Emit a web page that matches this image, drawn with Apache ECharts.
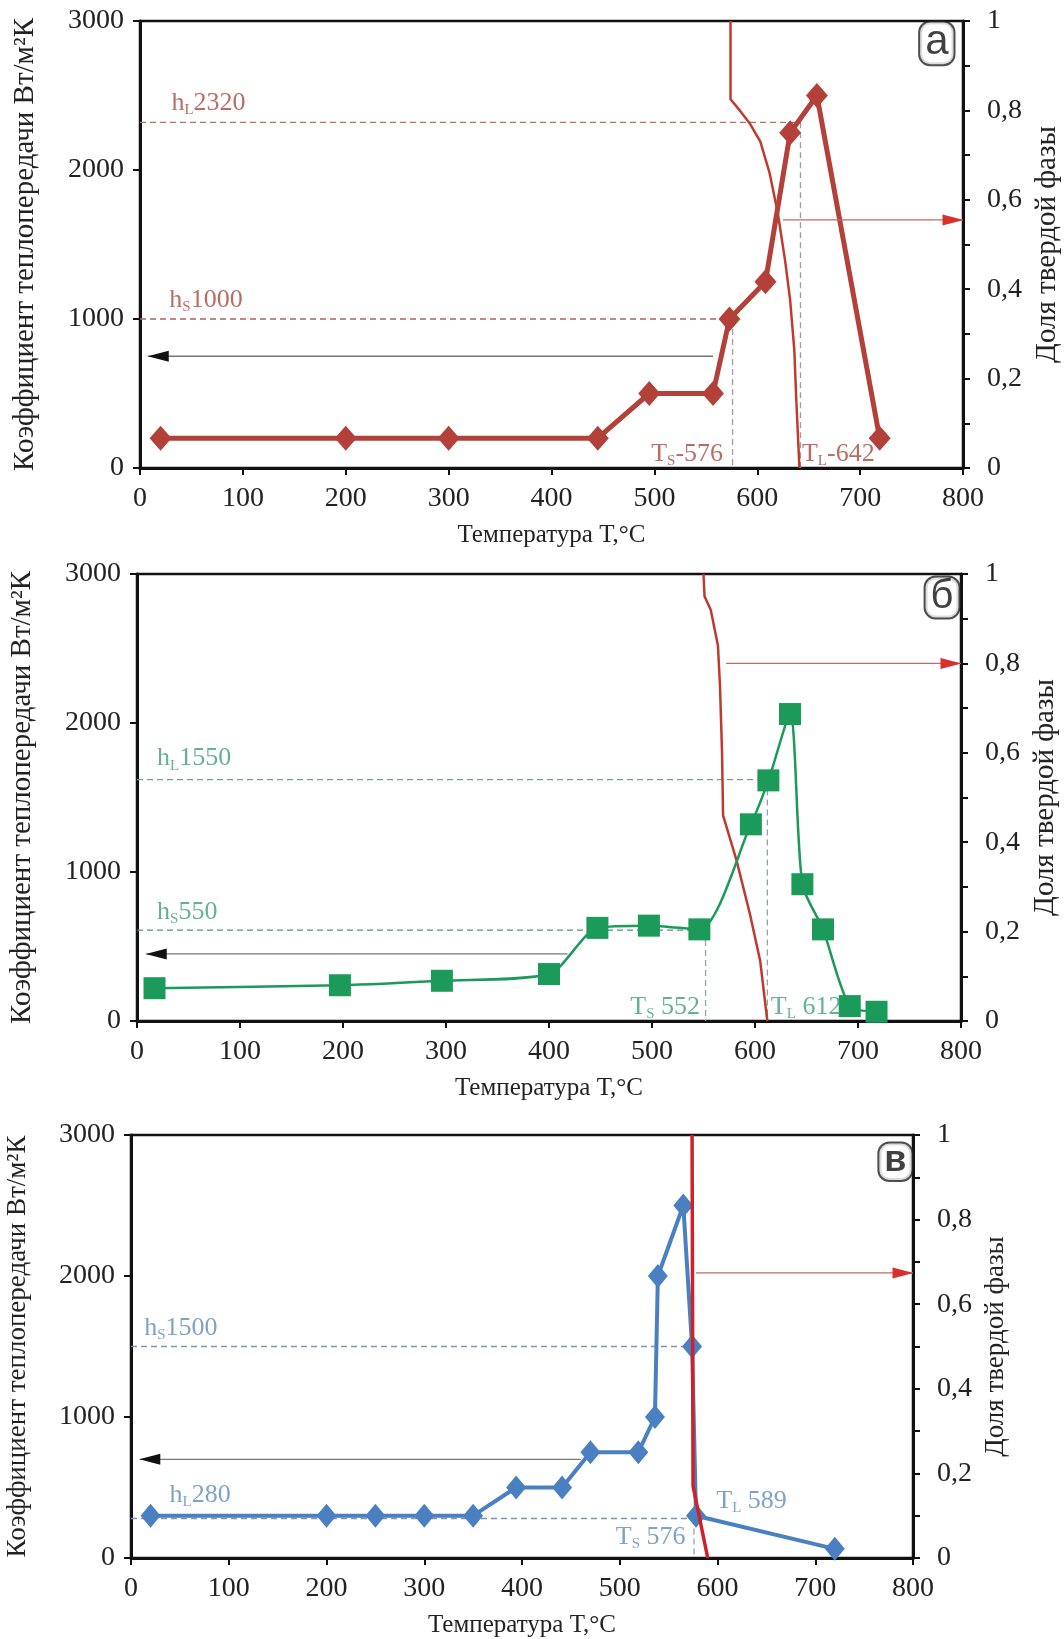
<!DOCTYPE html>
<html><head><meta charset="utf-8">
<script src="https://cdn.jsdelivr.net/npm/echarts@6.0.0/dist/echarts.min.js"></script>
<style>html,body{margin:0;padding:0;background:#fff}#c{width:1064px;height:1639px}</style>
</head><body><div id="c"></div>
<script>
// ---------- data: panel а (red diamonds) ----------
const aTemp  = [20, 200, 300, 445, 495, 557, 573, 608, 632, 658, 719];
const aH     = [200, 200, 200, 200, 500, 500, 1000, 1250, 2250, 2500, 200];
const aFracT = [574, 574, 583, 593, 603, 612, 620, 627, 632, 636, 638, 641];
const aFrac  = [1, 0.825, 0.80, 0.77, 0.73, 0.66, 0.57, 0.465, 0.375, 0.265, 0.15, 0];
const aRef   = [2320, 642, 1000, 576];          // hL, TL, hS, TS
const aArrowH = [557, 8, 750];                  // from T, to T, h
const aArrowF = [625, 800, 0.555];              // from T, to T, fraction
const aText  = ['2320', '-642', '1000', '-576'];

// ---------- data: panel б (green squares) ----------
const bTemp  = [17, 197, 296, 400, 447, 497, 546, 596, 613, 634, 646, 666, 692, 718];
const bH     = [220, 240, 270, 315, 625, 640, 615, 1320, 1615, 2060, 918, 615, 100, 62];
const bFracT = [550, 551, 557, 564, 566, 568, 569, 582, 595, 605, 612];
const bFrac  = [1, 0.95, 0.92, 0.84, 0.75, 0.6, 0.46, 0.36, 0.24, 0.135, 0];
const bRef   = [1620, 612, 610, 552];
const bArrowH = [418, 9, 450];
const bArrowF = [572, 800, 0.8];
const bText  = ['1550', ' 612', '550', ' 552'];

// ---------- data: panel в (blue diamonds) ----------
const cTemp  = [20, 200, 250, 300, 350, 394, 441, 470, 519, 536, 539, 565, 574, 578, 720];
const cH     = [300, 300, 300, 300, 300, 500, 500, 750, 750, 1000, 2000, 2500, 1500, 300, 65];
const cFracT = [574, 575, 590];
const cFrac  = [1, 0.17, 0];
const cRef   = [280, 589, 1500, 576];           // hL, TL, hS, TS
const cArrowH = [460, 9, 700];
const cArrowF = [578, 800, 0.674];
const cText  = ['280', ' 589', '1500', ' 576'];

const xTitle = 'Температура T,°C';
const yTitleL = 'Коэффициент теплопередачи Вт/м²К';
const yTitleR = 'Доля твердой фазы';
const panelLetters = ['а', 'б', 'в'];

// ---------- styling ----------
const SERIF = "'Liberation Serif','Times New Roman',serif";
const SANS = "'Liberation Sans',Arial,sans-serif";
const zip = (xs, ys) => xs.map((x, i) => [x, ys[i]]);
const titleSize = [29, 29, 27];

const grids = [
  {left: 140, top: 21, width: 823, height: 447},
  {left: 137, top: 574, width: 824, height: 447},
  {left: 131, top: 1135, width: 782, height: 423}
].map(g => Object.assign(g, {show: true, borderColor: '#111', borderWidth: 2.5, backgroundColor: 'transparent', containLabel: false, outerBoundsMode: 'none'}));

const xAxes = [0, 1, 2].map(i => ({
  gridIndex: i, type: 'value', min: 0, max: 800, interval: 100,
  name: xTitle, nameLocation: 'middle', nameGap: 55,
  nameTextStyle: {fontFamily: SERIF, fontSize: 25, color: '#222'},
  axisLine: {onZero: false, lineStyle: {color: '#111', width: 3}},
  axisTick: {length: 7, lineStyle: {color: '#111', width: 2}},
  axisLabel: {fontFamily: SERIF, fontSize: 28, color: '#222', margin: 17, formatter: v => String(v)},
  splitLine: {show: false}
}));

const yAxes = [];
[0, 1, 2].forEach(i => {
  yAxes.push({
    gridIndex: i, type: 'value', position: 'left', min: 0, max: 3000, interval: 1000,
    name: yTitleL, nameLocation: 'middle', nameRotate: 90, nameGap: 100,
    nameTextStyle: {fontFamily: SERIF, fontSize: titleSize[i], color: '#222'},
    axisLine: {show: true, onZero: false, lineStyle: {color: '#111', width: 3}},
    axisTick: {show: true, length: 7, lineStyle: {color: '#111', width: 2}},
    axisLabel: {fontFamily: SERIF, fontSize: 28, color: '#222', margin: 16, formatter: v => String(v)},
    splitLine: {show: false}
  });
  yAxes.push({
    gridIndex: i, type: 'value', position: 'right', min: 0, max: 1, interval: 0.1,
    name: yTitleR, nameLocation: 'middle', nameRotate: 90, nameGap: 68,
    nameTextStyle: {fontFamily: SERIF, fontSize: titleSize[i], color: '#222'},
    axisLine: {show: true, onZero: false, lineStyle: {color: '#111', width: 3}},
    axisTick: {show: true, length: 7, lineStyle: {color: '#111', width: 2}},
    axisLabel: {fontFamily: SERIF, fontSize: 28, color: '#222', margin: 24,
      formatter: v => { const k = Math.round(v * 10); if (k % 2) return ''; return k === 0 ? '0' : k === 10 ? '1' : '0,' + k; }},
    splitLine: {show: false}
  });
});

function rich(color) {
  return {
    r: {fontFamily: SERIF, fontSize: 26, color},
    s: {fontFamily: SERIF, fontSize: 15, color, padding: [14, 0, 0, 0]}
  };
}
function dashed(i, pts, color) {
  return {type: 'line', xAxisIndex: i, yAxisIndex: 2 * i, data: pts, symbol: 'none', silent: true, z: 1,
    lineStyle: {color, width: 1.3, type: [6, 4]}};
}
function arrow(i, yi, spec, lineColor, headColor) {
  const [from, to, y] = spec; const left = to < from;
  return {type: 'line', xAxisIndex: i, yAxisIndex: yi, silent: true, z: 4,
    lineStyle: {color: lineColor, width: 1.3},
    data: [{value: [from, y], symbol: 'none'},
           {value: [to, y], symbol: 'triangle', symbolSize: [11, 21], symbolRotate: left ? 90 : -90,
            symbolOffset: [left ? 10 : -10, 0], itemStyle: {color: headColor}}]};
}
function lbl(x, y, fmt, color, pos, align, va) {
  return {value: [x, y], label: {show: true, formatter: fmt, rich: rich(color), position: pos, align, verticalAlign: va}};
}
function textSeries(i, items) {
  return {type: 'scatter', xAxisIndex: i, yAxisIndex: 2 * i, symbolSize: 1, silent: true, z: 6,
    itemStyle: {color: 'transparent'}, data: items};
}
function letter(i, ch, pos, size, weight) {
  return {type: 'scatter', xAxisIndex: i, yAxisIndex: 2 * i, symbolSize: 1, silent: true, z: 7,
    itemStyle: {color: 'transparent'},
    data: [{value: [800, 3000], label: {show: true, formatter: ch, position: pos, align: 'right', verticalAlign: 'top',
      fontFamily: SANS, fontSize: size, fontWeight: weight, color: '#111', lineHeight: size * 0.9,
      borderColor: '#222', borderWidth: 2, borderRadius: 10, padding: [1, 5, 3, 5], backgroundColor: '#fff'}}]};
}

const series = [];
// ----- panel а -----
{
  const col = '#b3413a', tc = '#a9473c';
  series.push(dashed(0, [[0, aRef[0]], [aRef[1], aRef[0]]], '#bb6e64'));
  series.push(dashed(0, [[aRef[1], aRef[0]], [aRef[1], 0]], '#9c9c9c'));
  series.push(dashed(0, [[0, aRef[2]], [aRef[3], aRef[2]]], '#b0615a'));
  series.push(dashed(0, [[aRef[3], aRef[2]], [aRef[3], 0]], '#9c9c9c'));
  series.push({type: 'line', xAxisIndex: 0, yAxisIndex: 1, data: zip(aFracT, aFrac), symbol: 'none', z: 2,
    lineStyle: {color: '#c23a2e', width: 2.5}});
  series.push({type: 'line', xAxisIndex: 0, yAxisIndex: 0, data: zip(aTemp, aH), symbol: 'diamond', symbolSize: [22, 25], z: 3,
    lineStyle: {color: col, width: 5}, itemStyle: {color: col}});
  series.push(arrow(0, 0, aArrowH, '#777', '#111'));
  series.push(arrow(0, 1, aArrowF, '#c9685f', '#d8302a'));
  series.push(textSeries(0, [
    lbl(31, aRef[0], '{r|h}{s|L}{r|' + aText[0] + '}', tc, [0, -4], 'left', 'bottom'),
    lbl(29, aRef[2], '{r|h}{s|S}{r|' + aText[2] + '}', tc, [0, -4], 'left', 'bottom'),
    lbl(aRef[3], 0, '{r|T}{s|S}{r|' + aText[3] + '}', tc, [-9, 1], 'right', 'bottom'),
    lbl(aRef[1], 0, '{r|T}{s|L}{r|' + aText[1] + '}', tc, [2, 1], 'left', 'bottom')
  ]));
  series.push(letter(0, panelLetters[0], [-9, 2], 42, 'normal'));
}
// ----- panel б -----
{
  const col = '#1b9a5a', tc = '#3f9c7e';
  series.push(dashed(1, [[0, bRef[0]], [bRef[1], bRef[0]]], '#6fa293'));
  series.push(dashed(1, [[bRef[1], bRef[0]], [bRef[1], 0]], '#8ea79e'));
  series.push(dashed(1, [[0, bRef[2]], [bRef[3], bRef[2]]], '#5f8f80'));
  series.push(dashed(1, [[bRef[3], bRef[2]], [bRef[3], 0]], '#8ea79e'));
  series.push({type: 'line', xAxisIndex: 1, yAxisIndex: 3, data: zip(bFracT, bFrac), symbol: 'none', z: 2,
    lineStyle: {color: '#bf3a2e', width: 2.5}});
  series.push({type: 'line', xAxisIndex: 1, yAxisIndex: 2, data: zip(bTemp, bH), symbol: 'rect', symbolSize: 22, z: 3,
    smooth: 0.25, lineStyle: {color: col, width: 2.5}, itemStyle: {color: col}});
  series.push(arrow(1, 2, bArrowH, '#777', '#111'));
  series.push(arrow(1, 3, bArrowF, '#c9685f', '#d8302a'));
  series.push(textSeries(1, [
    lbl(20, bRef[0], '{r|h}{s|L}{r|' + bText[0] + '}', tc, [0, -6], 'left', 'bottom'),
    lbl(20, bRef[2], '{r|h}{s|S}{r|' + bText[2] + '}', tc, [0, -3], 'left', 'bottom'),
    lbl(bRef[3], 0, '{r|T}{s|S}{r|' + bText[3] + '}', tc, [-5, 1], 'right', 'bottom'),
    lbl(bRef[1], 0, '{r|T}{s|L}{r|' + bText[1] + '}', tc, [4, 1], 'left', 'bottom')
  ]));
  series.push(letter(1, panelLetters[1], [-2, 4], 40, 'normal'));
}
// ----- panel в -----
{
  const col = '#4a80c2', tc = '#5f8bb6';
  series.push(dashed(2, [[0, cRef[2]], [574, cRef[2]]], '#7d95b2'));
  series.push(dashed(2, [[0, cRef[0]], [578, cRef[0]]], '#7d95b2'));
  series.push(dashed(2, [[cRef[3], cRef[0]], [cRef[3], 0]], '#8fa2b8'));
  series.push({type: 'line', xAxisIndex: 2, yAxisIndex: 4, data: zip(cTemp, cH), symbol: 'diamond', symbolSize: [20, 24], z: 3,
    lineStyle: {color: col, width: 4}, itemStyle: {color: col}});
  series.push({type: 'line', xAxisIndex: 2, yAxisIndex: 5, data: zip(cFracT, cFrac), symbol: 'none', z: 4,
    lineStyle: {color: '#cf2128', width: 3.5}});
  series.push(arrow(2, 4, cArrowH, '#777', '#111'));
  series.push(arrow(2, 5, cArrowF, '#c9685f', '#d8302a'));
  series.push(textSeries(2, [
    lbl(14, cRef[2], '{r|h}{s|S}{r|' + cText[2] + '}', tc, [0, -3], 'left', 'bottom'),
    lbl(40, cRef[0], '{r|h}{s|L}{r|' + cText[0] + '}', tc, [0, -8], 'left', 'bottom'),
    lbl(cRef[3], 0, '{r|T}{s|S}{r|' + cText[3] + '}', tc, [-8, -6], 'right', 'bottom'),
    lbl(cRef[1], cRef[0], '{r|T}{s|L}{r|' + cText[1] + '}', tc, [10, -2], 'left', 'bottom')
  ]));
  series.push(letter(2, panelLetters[2], [-1, 9], 36, 'bold'));
}

const chart = echarts.init(document.getElementById('c'), null, {renderer: 'canvas'});
chart.setOption({
  animation: false,
  backgroundColor: '#fff',
  grid: grids, xAxis: xAxes, yAxis: yAxes, series
});
</script></body></html>
